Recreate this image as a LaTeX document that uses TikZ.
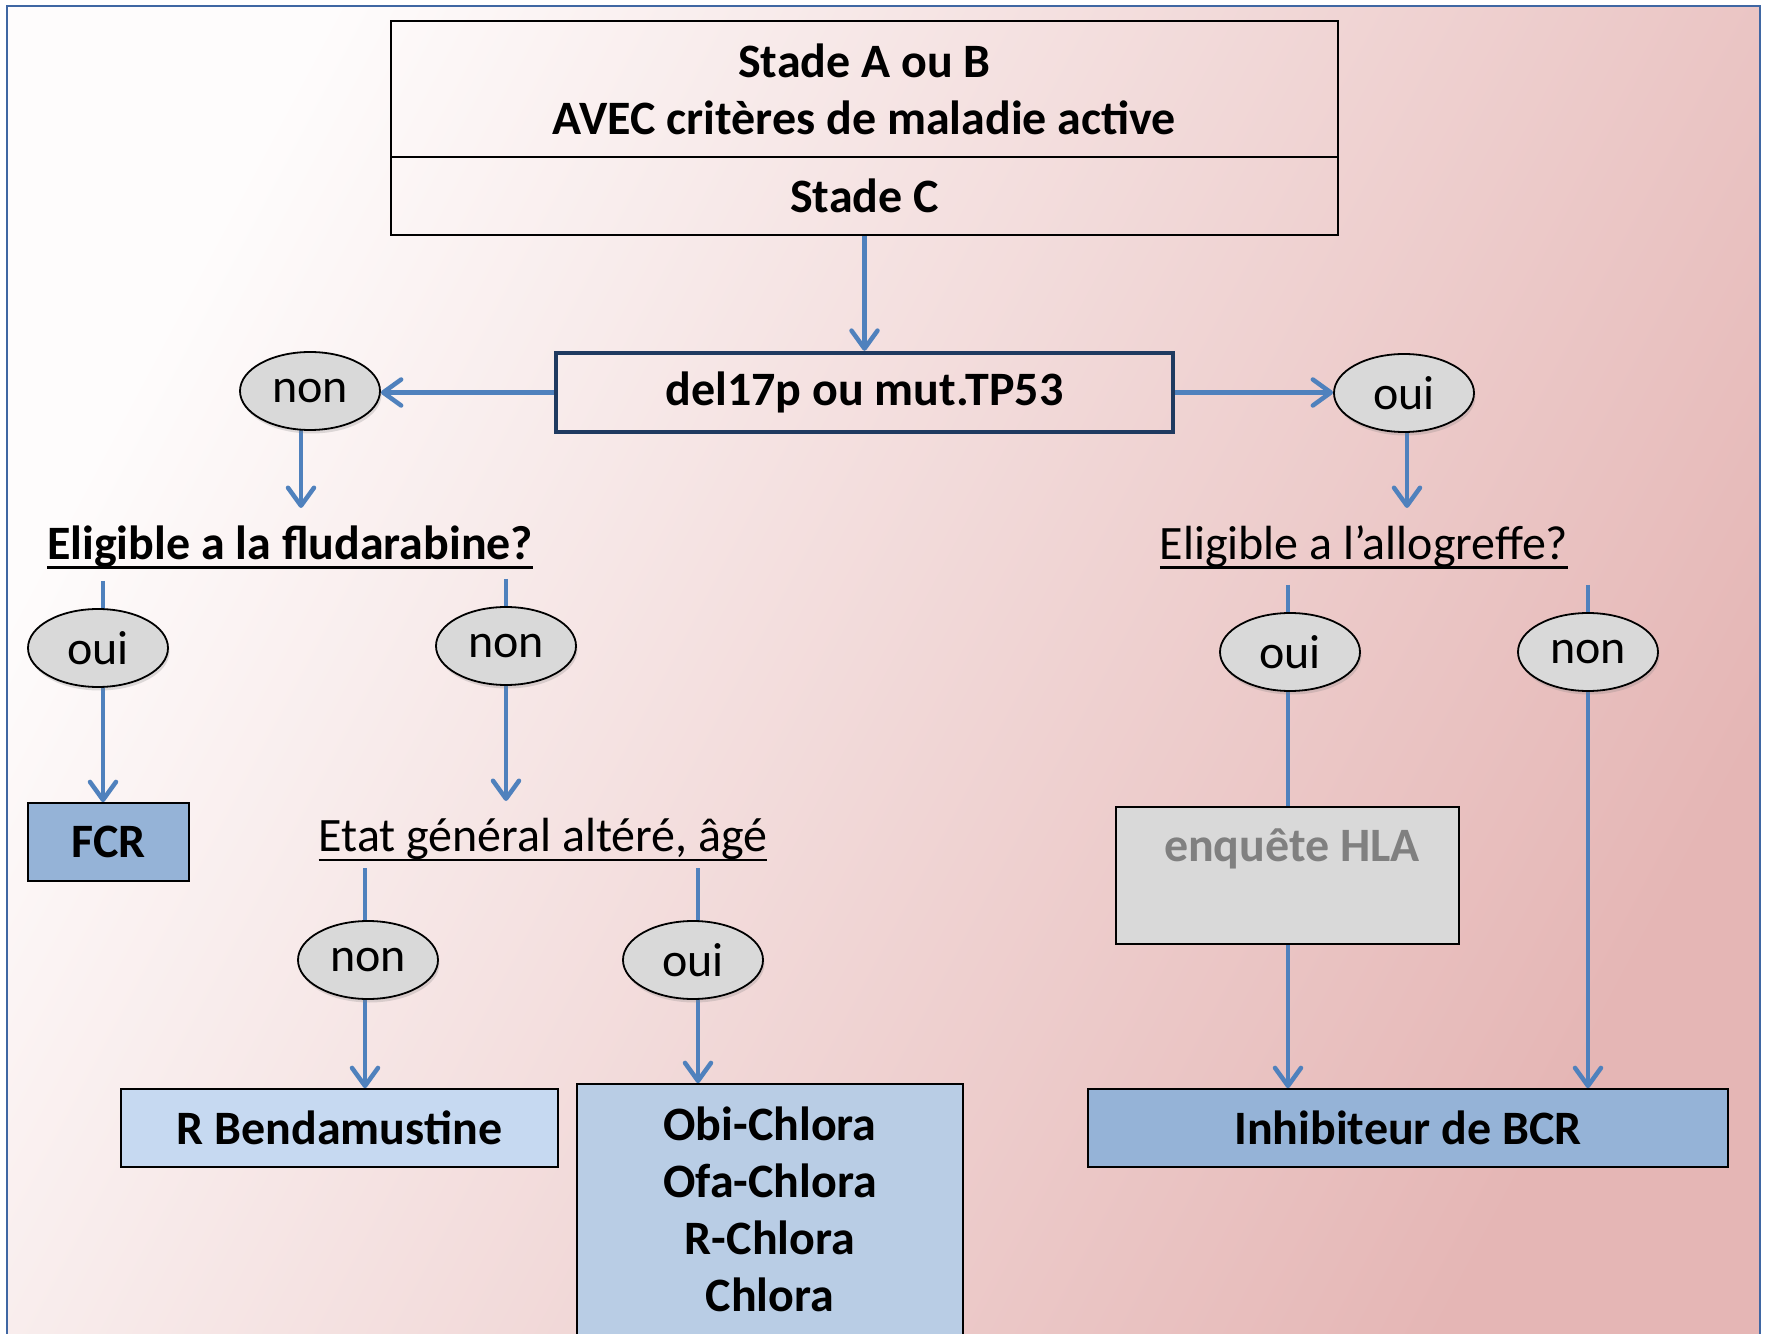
\documentclass[tikz,border=0pt]{standalone}
\usepackage{fontspec}
\setmainfont{Carlito}
\usetikzlibrary{shapes.geometric, arrows.meta, shadows}
\newlength\pxu \setlength\pxu{0.02cm}
\newcommand\myul[1]{\setbox0=\hbox{#1}\rlap{\rule[-0.2em]{\wd0}{0.06em}}\box0}
\definecolor{arrowblue}{HTML}{4F81BD}
\definecolor{navy}{HTML}{1F3A60}
\definecolor{framecol}{HTML}{3F67A3}
\definecolor{ovalgray}{HTML}{D9D9D9}
\definecolor{midblue}{HTML}{95B3D7}
\definecolor{lightblue}{HTML}{C6D9F1}
\definecolor{paleblue}{HTML}{B9CDE5}
\definecolor{hlagray}{HTML}{808080}
\definecolor{bgA}{HTML}{FEFCFC}
\definecolor{bgB}{HTML}{E5B6B5}
\pgfdeclarelayer{back}\pgfdeclarelayer{lines}
\pgfsetlayers{back,lines,main}
\begin{document}
\begin{tikzpicture}[x=0.02cm, y=-0.02cm,
  every node/.style={font=\fontsize{27.3pt}{32.4pt}\selectfont, inner sep=0pt},
  box/.style={draw=black, line width=0.034cm, rectangle},
  bold/.style={font=\fontsize{27.3pt}{32.4pt}\selectfont\bfseries, align=center},
  oval/.style={ellipse, draw=black, line width=0.036cm, fill=ovalgray,
    minimum width=140\pxu, minimum height=78\pxu,
    drop shadow={shadow xshift=0.03cm, shadow yshift=-0.07cm, opacity=0.25}},
  conn/.style={draw=arrowblue, line width=0.09cm},
  arr/.style={conn, -{Straight Barb[length=0.36cm, width=0.52cm, round]}},
  label/.style={align=center}
]
\useasboundingbox (0,0) rectangle (1769,1334);
\begin{pgfonlayer}{back}
  \fill[white] (0,0) rectangle (1769,1334);
  \shade[top color=bgA, bottom color=bgB, shading angle=62] (7,6) rectangle (1760,1345);
  \draw[framecol, line width=0.05cm] (7,1345) -- (7,6) -- (1760,6) -- (1760,1345);
\end{pgfonlayer}

% top boxes
\node[box, bold, minimum width=947\pxu, minimum height=136\pxu] (top) at (864.5,89) {Stade A ou B\\AVEC critères de maladie active};
\node[box, bold, minimum width=947\pxu, minimum height=78\pxu] (stc) at (864.5,196) {Stade C};
\node[draw=navy, line width=0.085cm, bold, minimum width=617\pxu, minimum height=79\pxu] (del) at (864.5,392.5) {del17p ou mut.TP53};

% first level ovals
\node[oval] (lnon) at (310,391) {non};
\node[oval] (roui) at (1404,393) {oui};

% questions
\node[bold] (fl) at (290,547) {\myul{Eligible a la fludarabine?}};
\node[label] (al) at (1364,547) {\myul{Eligible a l’allogreffe?}};

% left branch
\node[oval] (loui) at (98,648) {oui};
\node[oval] (mnon) at (506,646) {non};
\node[box, bold, fill=midblue, minimum width=161\pxu, minimum height=78\pxu] (fcr) at (108.5,842) {FCR};
\node[label] (etat) at (543,840) {\myul{Etat général altéré, âgé}};
\node[oval] (bnon) at (368,960) {non};
\node[oval] (boui) at (693,960) {oui};
\node[box, bold, fill=lightblue, minimum width=437\pxu, minimum height=78\pxu] (rb) at (339.5,1128) {R Bendamustine};
\node[box, fill=paleblue, minimum width=386\pxu, minimum height=276\pxu] (ch) at (770,1222) {};
\node[bold] (cht) at (770,1209) {Obi-Chlora\\Ofa-Chlora\\R-Chlora\\Chlora};

% right branch
\node[oval] (roui2) at (1290,652) {oui};
\node[oval] (rnon2) at (1588,652) {non};
\node[box, fill=ovalgray, minimum width=343\pxu, minimum height=137\pxu] (hla) at (1287.5,875.5) {};
\node[bold, text=hlagray] (hlat) at (1292,849) {enquête HLA};
\node[box, bold, fill=midblue, minimum width=640\pxu, minimum height=78\pxu] (ibcr) at (1408,1128) {Inhibiteur de BCR};

% free ends of connectors
\coordinate (a1) at (301,508);
\coordinate (a2) at (1407,508);
\coordinate (a3) at (506,801);
\coordinate (q1) at (103,581);
\coordinate (q2) at (506,579);
\coordinate (q3) at (365,868);
\coordinate (q4) at (698,868);
\coordinate (q5) at (1288,585);
\coordinate (q6) at (1588,585);

\begin{pgfonlayer}{lines}
  \draw[arr] (stc.south) -- (del.north);
  \draw[arr] (del.west) -- (del.west -| lnon.east);
  \draw[arr] (del.east) -- (del.east -| roui.west);
  \draw[arr] (a1 |- lnon.center) -- (a1);
  \draw[arr] (a2 |- roui.center) -- (a2);
  % fludarabine
  \draw[conn] (q1) -- (q1 |- loui.center);
  \draw[arr] (q1 |- loui.center) -- (q1 |- fcr.north);
  \draw[conn] (q2) -- (q2 |- mnon.center);
  \draw[arr] (q2 |- mnon.center) -- (a3);
  % etat
  \draw[conn] (q3) -- (q3 |- bnon.center);
  \draw[arr] (q3 |- bnon.center) -- (q3 |- rb.north);
  \draw[conn] (q4) -- (q4 |- boui.center);
  \draw[arr] (q4 |- boui.center) -- (q4 |- ch.north);
  % allogreffe
  \draw[conn] (q5) -- (q5 |- roui2.center);
  \draw[conn] (q5 |- roui2.center) -- (q5 |- hla.north);
  \draw[arr] (q5 |- hla.south) -- (q5 |- ibcr.north);
  \draw[conn] (q6) -- (q6 |- rnon2.center);
  \draw[arr] (q6 |- rnon2.center) -- (q6 |- ibcr.north);
\end{pgfonlayer}
\end{tikzpicture}
\end{document}
